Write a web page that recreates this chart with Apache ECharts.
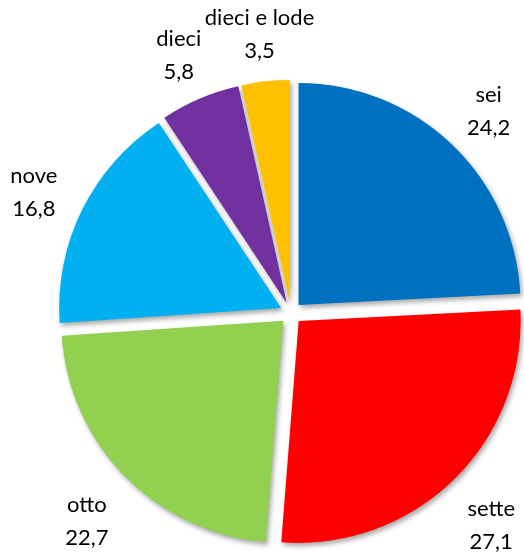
<!DOCTYPE html>
<html>
<head>
<meta charset="utf-8">
<script src="https://cdn.jsdelivr.net/npm/echarts@6/dist/echarts.min.js"></script>
<style>
    html, body { margin: 0; padding: 0; background: #fff; }
    #container { width: 524px; height: 554px; }
</style>
</head>
<body>
<div id="container"></div>
<script>
var categories = ['sei', 'sette', 'otto', 'nove', 'dieci', 'dieci e lode'];
var values = [24.2, 27.1, 22.7, 16.8, 5.8, 3.5];
var palette = ['#0070C0', '#FF0000', '#92D050', '#00B0F0', '#7030A0', '#FFC000'];

function initChart(echarts) {
    var data = new Array();
    for (var i = 0; i < categories.length; i++) {
        data.push({name: categories[i], value: values[i], selected: true});
    }

    var myChart = echarts.init(document.getElementById('container'));
    var shadow = {
        borderWidth: 0,
        shadowBlur: 5,
        shadowOffsetX: 2,
        shadowOffsetY: 3,
        shadowColor: 'rgba(0,0,0,0.35)'
    };
    var option = {
        animation: false,
        color: palette,
        series: [
            {
                type: 'pie',
                center: [291, 313],
                radius: 222,
                startAngle: 90,
                clockwise: true,
                selectedMode: 'multiple',
                selectedOffset: 11,
                avoidLabelOverlap: false,
                itemStyle: shadow,
                select: {itemStyle: shadow},
                emphasis: {disabled: true},
                label: {
                    show: true,
                    position: 'outside',
                    distanceToLabelLine: 0,
                    fontFamily: 'Lato',
                    fontSize: 22,
                    lineHeight: 33,
                    color: '#000',
                    formatter: function (p) {
                        return p.name + '\n' + String(p.value).replace('.', ',');
                    }
                },
                labelLine: {show: false, length: 54, length2: 0},
                // Excel centres its data labels a little lower than the bisector point
                labelLayout: function () {
                    return {align: 'center', verticalAlign: 'middle', dy: 7};
                },
                data: data
            }
        ]
    };
    myChart.setOption(option);
}

initChart(echarts);
</script>
</body>
</html>
